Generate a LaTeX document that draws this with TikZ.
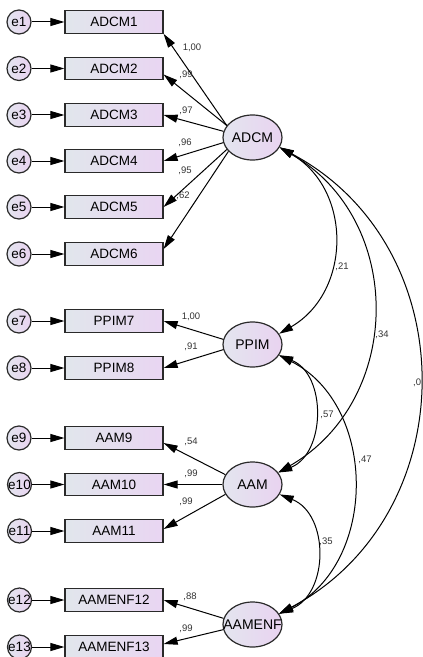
\documentclass[tikz,border=0pt]{standalone}
\usepackage{fontspec}
\setmainfont{Liberation Sans}
\usetikzlibrary{arrows.meta,shapes.geometric}
\definecolor{boxL}{HTML}{E1E6EC}
\definecolor{boxR}{HTML}{E9D5F2}
\definecolor{latL}{HTML}{E3E5EF}
\definecolor{latR}{HTML}{E9D3F0}
\definecolor{edge}{HTML}{2A2A2A}
\definecolor{labc}{HTML}{333333}
\begin{document}
\begin{tikzpicture}[x=1bp,y=1bp,
  obs/.style={draw=edge, line width=1.2bp, minimum width=98bp, minimum height=22.5bp, inner sep=0pt,
    left color=boxL, right color=boxR, font=\fontsize{13.5bp}{15bp}\selectfont},
  lat/.style={ellipse, draw=edge, line width=1.2bp, minimum width=59bp, minimum height=45bp, inner sep=0pt,
    left color=latL, right color=latR, font=\fontsize{14bp}{15bp}\selectfont},
  err/.style={circle, draw=edge, line width=1.2bp, minimum size=24bp, inner sep=0pt,
    left color=latL, right color=latR, font=\fontsize{13.5bp}{15bp}\selectfont},
  arr/.style={-{Triangle[length=14bp,width=8bp]}, line width=1bp, draw=black},
  darr/.style={{Triangle[length=14bp,width=8bp]}-{Triangle[length=14bp,width=8bp]}, line width=1bp, draw=black},
  lab/.style={font=\fontsize{9.5bp}{10bp}\selectfont, inner sep=0pt, text=labc}
]
\useasboundingbox (0,0) rectangle (422,-657);

% observed boxes
\node[obs] (ADCM1) at (114,-22) {ADCM1};
\node[obs] (ADCM2) at (114,-68.5) {ADCM2};
\node[obs] (ADCM3) at (114,-115) {ADCM3};
\node[obs] (ADCM4) at (114,-161) {ADCM4};
\node[obs] (ADCM5) at (114,-207) {ADCM5};
\node[obs] (ADCM6) at (114,-254) {ADCM6};
\node[obs] (PPIM7) at (114,-321) {PPIM7};
\node[obs] (PPIM8) at (114,-368) {PPIM8};
\node[obs] (AAM9) at (114,-438) {AAM9};
\node[obs] (AAM10) at (114,-484.5) {AAM10};
\node[obs] (AAM11) at (114,-531) {AAM11};
\node[obs] (AAMENF12) at (114,-600) {AAMENF12};
\node[obs] (AAMENF13) at (114,-647) {AAMENF13};

% error circles
\node[err] (e1) at (19,-22) {e1};
\node[err] (e2) at (19,-68.5) {e2};
\node[err] (e3) at (19,-115) {e3};
\node[err] (e4) at (19,-161) {e4};
\node[err] (e5) at (19,-207) {e5};
\node[err] (e6) at (19,-254) {e6};
\node[err] (e7) at (19,-321) {e7};
\node[err] (e8) at (19,-368) {e8};
\node[err] (e9) at (19,-438) {e9};
\node[err] (e10) at (19.5,-484.5) {\makebox[0pt]{e10}};
\node[err] (e11) at (19.5,-531) {\makebox[0pt]{e11}};
\node[err] (e12) at (19.5,-600) {\makebox[0pt]{e12}};
\node[err] (e13) at (19.5,-647) {\makebox[0pt]{e13}};

\foreach \e/\b in {e1/ADCM1,e2/ADCM2,e3/ADCM3,e4/ADCM4,e5/ADCM5,e6/ADCM6,e7/PPIM7,e8/PPIM8,e9/AAM9,e10/AAM10,e11/AAM11,e12/AAMENF12,e13/AAMENF13}
  \draw[arr] (\e) -- (\b);

% latent variables
\node[lat] (ADCM) at (252.5,-137.5) {\makebox[0pt]{ADCM}};
\node[lat] (PPIM) at (252.5,-344.5) {\makebox[0pt]{PPIM}};
\node[lat] (AAM) at (252.5,-484.5) {\makebox[0pt]{AAM}};
\node[lat] (AAMENF) at (252.5,-624.5) {\makebox[0pt]{AAMENF}};

% loadings
\draw[arr] (ADCM.155) -- (ADCM1.south east);
\draw[arr] (ADCM.155) -- ([yshift=-6bp]ADCM2.east);
\draw[arr] (ADCM.168) -- (ADCM3.east);
\draw[arr] (ADCM.190) -- (ADCM4.east);
\draw[arr] (ADCM.205) -- (ADCM5.east);
\draw[arr] (ADCM.210) -- ([yshift=5bp]ADCM6.east);
\draw[arr] (PPIM.170) -- (PPIM7.east);
\draw[arr] (PPIM.190) -- (PPIM8.east);
\draw[arr] (AAM.160) -- ([yshift=-5bp]AAM9.east);
\draw[arr] (AAM.west) -- (AAM10.east);
\draw[arr] (AAM.200) -- ([yshift=2bp]AAM11.east);
\draw[arr] (AAMENF.168) -- (AAMENF12.east);
\draw[arr] (AAMENF.190) -- ([yshift=3bp]AAMENF13.east);

\node[lab] (l1) at (192,-48) {1,00};
\node[lab] (l2) at (186,-75) {,99};
\node[lab] (l3) at (186,-111) {,97};
\node[lab] (l4) at (185,-143) {,96};
\node[lab] (l5) at (185,-171) {,95};
\node[lab] (l6) at (183,-196) {,62};
\node[lab] (l7) at (191,-317) {1,00};
\node[lab] (l8) at (191,-347) {,91};
\node[lab] (l9) at (191,-442) {,54};
\node[lab] (l10) at (191,-474) {,99};
\node[lab] (l11) at (186,-502) {,99};
\node[lab] (l12) at (190,-597) {,88};
\node[lab] (l13) at (186,-629) {,99};

% covariances
\draw[darr] (ADCM.-20) to[out=-30,in=30,looseness=1.15] (PPIM.22);
\draw[darr] (ADCM.-20) to[out=-30,in=30,looseness=1.14] (AAM.25);
\draw[darr] (ADCM.-20) to[out=-28,in=28,looseness=1.16] (AAMENF.22);
\draw[darr] (PPIM.-22) to[out=-22,in=22,looseness=1.12] (AAM.25);
\draw[darr] (PPIM.-22) to[out=-27,in=27,looseness=1.1] (AAMENF.22);
\draw[darr] (AAM.-20) to[out=-22,in=22,looseness=1.15] (AAMENF.22);

\node[lab] (c1) at (342,-267) {,21};
\node[lab] (c2) at (382,-335) {,34};
\node[lab,anchor=west] (c3) at (413,-383) {,0};
\node[lab] (c4) at (327,-415) {,57};
\node[lab] (c5) at (365,-460) {,47};
\node[lab] (c6) at (326,-542) {,35};
\end{tikzpicture}
\end{document}
